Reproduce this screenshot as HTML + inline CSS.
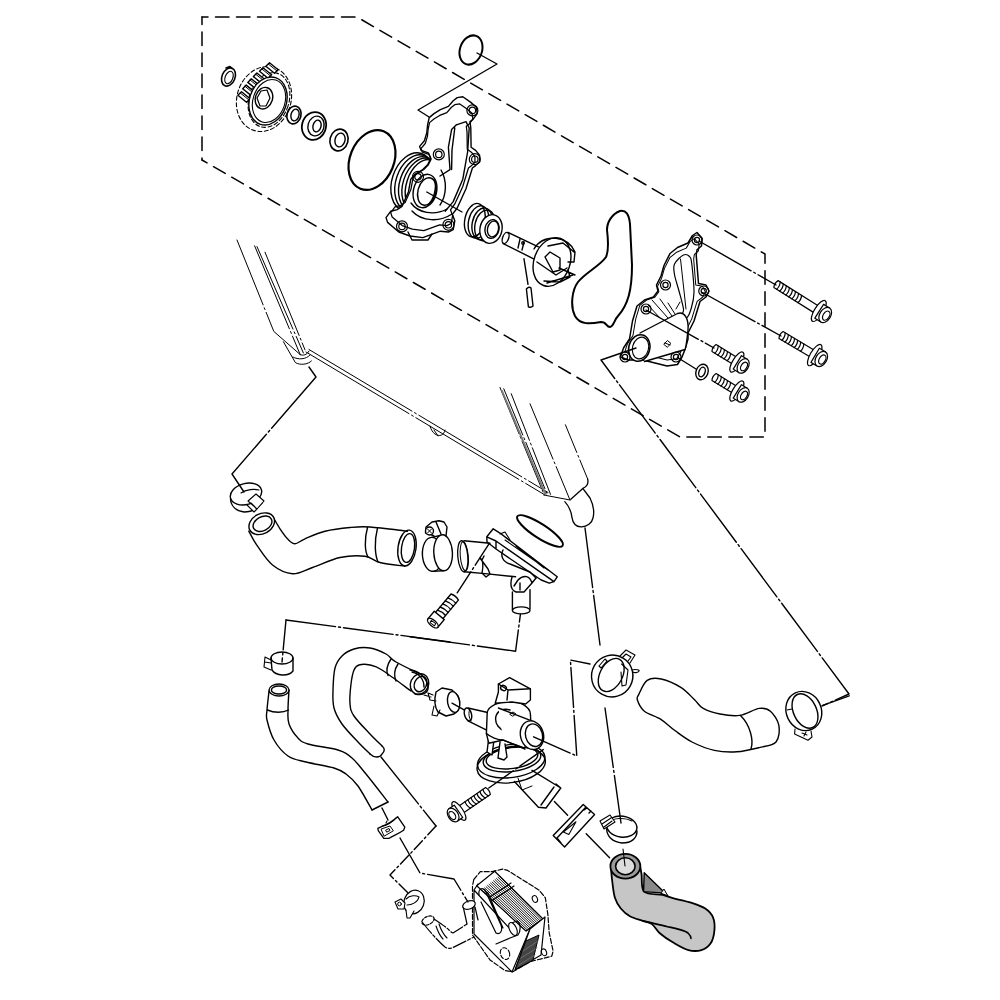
<!DOCTYPE html>
<html><head><meta charset="utf-8">
<style>
html,body{margin:0;padding:0;background:#fff;}
svg{display:block;}
</style></head>
<body>
<svg width="1000" height="1000" viewBox="0 0 1000 1000">
<g fill="none" stroke="#000" stroke-width="1.4" stroke-linejoin="round" stroke-linecap="round">
<!-- dashed box -->
<path d="M202,17 L357,17 L765,254 L765,437 L680,437 L202,160" stroke-dasharray="13.5,7.5" stroke-dashoffset="7.5" stroke-width="1.5"/>
<path d="M202,17 L202,160" stroke-dasharray="13.5,7.5" stroke-dashoffset="6" stroke-width="1.5"/>

<!-- top o-ring + callout -->
<ellipse cx="471" cy="50" rx="11" ry="15" transform="rotate(20 471 50)" stroke-width="2"/>
<path d="M477,53 L497,64 L418,110 L429,117"/>

<!-- snap ring -->
<ellipse cx="228.5" cy="77" rx="6.5" ry="9.5" transform="rotate(22 228.5 77)" stroke-width="1.6"/>
<ellipse cx="229" cy="77.5" rx="3.8" ry="6.5" transform="rotate(22 229 77.5)" stroke-width="1.1"/>
<path d="M226,68 l4,-1.5 l2,2" stroke-width="1.6"/>
<!-- gear -->
<ellipse cx="264" cy="99" rx="27" ry="33" transform="rotate(18 264 99)" stroke-dasharray="4,2.5" stroke-width="1.1"/>
<ellipse cx="269" cy="100" rx="20" ry="28" transform="rotate(18 269 100)" stroke-dasharray="4,2.5" stroke-width="1.1"/>
<path d="M237.9,95.3 L246.5,102.2 L250.1,98.7 L241.5,91.8 Z M242.7,88.7 L251.3,95.6 L254.8,92.1 L246.2,85.1 Z M247.8,82.4 L256.4,89.3 L259.9,85.8 L251.3,78.8 Z M253.4,76.6 L262.0,83.5 L265.5,80.0 L256.9,73.0 Z M259.5,71.3 L268.1,78.2 L271.6,74.7 L263.0,67.7 Z M265.9,66.3 L274.5,73.2 L278.1,69.7 L269.5,62.8 Z " fill="#fff" stroke-width="1.4"/>
<path d="M240.3,93.0 L248.9,99.9 M245.0,86.3 L253.6,93.3 M250.1,80.0 L258.7,87.0 M255.7,74.2 L264.3,81.2 M261.8,68.9 L270.4,75.9 M268.3,64.0 L276.9,70.9 " stroke-width="1"/>
<ellipse cx="268" cy="101" rx="18.5" ry="24.5" transform="rotate(18 268 101)" fill="#fff" stroke-width="1.4"/>
<ellipse cx="269" cy="101" rx="16" ry="22" transform="rotate(18 269 101)" stroke-width="1.1"/>
<ellipse cx="264" cy="98.2" rx="8.5" ry="11" transform="rotate(18 264 98.2)" stroke-width="1.4"/>
<path d="M261,91 L267,90 L270,98 L266,106 L260,106 L257,98 Z" stroke-width="1.2"/>
<!-- washer -->
<ellipse cx="294" cy="115" rx="7" ry="9" transform="rotate(15 294 115)" stroke-width="1.6"/>
<ellipse cx="295" cy="115" rx="4" ry="6" transform="rotate(15 295 115)"/>
<!-- bearing -->
<ellipse cx="314" cy="126" rx="12" ry="14" transform="rotate(15 314 126)" stroke-width="1.8"/>
<ellipse cx="316" cy="126" rx="8" ry="10" transform="rotate(15 316 126)"/>
<ellipse cx="317" cy="126" rx="4" ry="6" transform="rotate(15 317 126)"/>
<!-- seal -->
<ellipse cx="339" cy="140" rx="9" ry="11" transform="rotate(15 339 140)" stroke-width="1.6"/>
<ellipse cx="340" cy="140" rx="5" ry="7" transform="rotate(15 340 140)"/>
<!-- large o-ring -->
<ellipse cx="372" cy="160" rx="22" ry="31" transform="rotate(22 372 160)" stroke-width="2.2"/>

<!-- pump housing -->
<g transform="rotate(18 412 182)">
<ellipse cx="412" cy="182" rx="20" ry="30"/>
<ellipse cx="415" cy="182" rx="19" ry="29"/>
<ellipse cx="418" cy="182" rx="18" ry="28"/>
<ellipse cx="421" cy="182" rx="17.5" ry="27.5"/>
<ellipse cx="424" cy="182" rx="17" ry="27"/>
</g>
<path id="hs" fill="#fff" d="M429.2,117.6 L434,113.6 L440.4,109.6 L448.4,106.4 L453.2,100.8 L457.2,97.6 L462.8,96.8 L470.8,102.4 L476.4,107.2 L477.2,113.6 L473.2,119.2 L470,121.6 L470.8,128 L471.1,147.2 L475.6,150.4 L479.6,155.2 L479.6,161.6 L475.6,165.6 L472.4,168 L466,188.8 L457.2,208 L452.4,214.4 L454.8,220.8 L453.2,229.6 L448.4,232 L440.4,231.2 L422.8,237.6 L410,236 L398.8,232 L387.6,222.4 L386,217.6 L390.8,211.2 L397.2,209.6 L402,206.4 L408.4,192 L410.8,179.2 L414.8,174.4 L422.8,169.6 L427.6,164.8 L430.8,158.4 L428.4,152.8 L421.2,150.4 L419.6,146.4 L424.4,140.8 L426.8,132.8 L427.6,124.8 Z"/>
<path transform="translate(433 168) scale(0.9) translate(-433 -168)" d="M429.2,117.6 L434,113.6 L440.4,109.6 L448.4,106.4 L453.2,100.8 L457.2,97.6 L462.8,96.8 L470.8,102.4 L476.4,107.2 L477.2,113.6 L473.2,119.2 L470,121.6 L470.8,128 L471.1,147.2 L475.6,150.4 L479.6,155.2 L479.6,161.6 L475.6,165.6 L472.4,168 L466,188.8 L457.2,208 L452.4,214.4 L454.8,220.8 L453.2,229.6 L448.4,232 L440.4,231.2 L422.8,237.6 L410,236 L398.8,232 L387.6,222.4 L386,217.6 L390.8,211.2 L397.2,209.6 L402,206.4 L408.4,192 L410.8,179.2 L414.8,174.4 L422.8,169.6 L427.6,164.8 L430.8,158.4 L428.4,152.8 L421.2,150.4 L419.6,146.4 L424.4,140.8 L426.8,132.8 L427.6,124.8 Z"/>
<g transform="rotate(15 425 191)">
<ellipse cx="425" cy="191" rx="11.5" ry="17"/>
<ellipse cx="427" cy="191" rx="9" ry="14"/>
<path d="M431,178 C436,184 436,198 431,204" />
</g>
<path d="M456.4,124.8 L466,121.6 L469.2,128 L467.6,152 L462.8,179.2 L453.2,201.6 L445.2,211.2 M456.4,124.8 L451.6,129.6 L448.4,147.2 L450,169.6 L440,176 M454.8,128 L452,150 L451.6,169.6"/>
<g stroke-width="1.2">
<circle cx="472.4" cy="110.4" r="3.2"/><circle cx="472.4" cy="110.4" r="5.5"/>
<circle cx="438.8" cy="154.4" r="3.2"/><circle cx="438.8" cy="154.4" r="5.5"/>
<circle cx="474.8" cy="159.2" r="3.2"/><circle cx="474.8" cy="159.2" r="5.5"/>
<circle cx="418" cy="176.8" r="3.2"/><circle cx="418" cy="176.8" r="5.5"/>
<circle cx="402" cy="226.4" r="3.2"/><circle cx="402" cy="226.4" r="5.5"/>
<circle cx="448.4" cy="224.8" r="3.2"/><circle cx="448.4" cy="224.8" r="5.5"/>
</g>
<path d="M411,203 C418,213 434,216 447,209 M412,211 C422,222 440,222 452,214 M441,170 C447,180 447,195 440,205"/>
<path d="M426.8,192 L462,212"/>
<path d="M408,232 L412,240 L428,240 L432,234"/>
<!-- mechanical seal -->
<g transform="rotate(12 483 225)">
<ellipse cx="474" cy="222" rx="10" ry="17"/>
<ellipse cx="478" cy="223" rx="10" ry="16.5"/>
<ellipse cx="482" cy="224" rx="10" ry="16"/>
<ellipse cx="485" cy="225" rx="10" ry="15.5"/>
</g>
<ellipse fill="#fff" cx="491" cy="229" rx="11" ry="14.5" transform="rotate(12 491 229)"/>
<ellipse cx="492" cy="229" rx="7" ry="9.5" transform="rotate(12 492 229)"/>
<ellipse cx="493" cy="229" rx="5.5" ry="8" transform="rotate(12 493 229)"/>
<!-- shaft + impeller -->
<path d="M508,232.4 L538.4,246.8 M503.2,243.6 L533.6,258.8"/>
<ellipse cx="505.6" cy="238" rx="3" ry="5.8" transform="rotate(20 505.6 238)"/>
<path d="M520,239 L518,248 M524,242 L522,250"/>
<circle cx="523" cy="243" r="1.2"/>
<ellipse cx="552" cy="262" rx="18" ry="25" transform="rotate(20 552 262)"/>
<path d="M534,249 Q540,238 555,238 Q570,240 575,252 L574,262 L568,262 M548,246 L563,243 L574,252 M545,257 L550,252 L560,258 L560,270 L553,272 Z M537,262 L556,275 L567,268 M544,281 L560,282 L570,277 L568,270 M547,283 L573,275 M559,268 L575,275"/>
<!-- pin -->
<path d="M526.4,289 L528.4,306.8 M531,288 L533,306 M526.4,289 Q529,286 531,288 M528.4,306.8 Q531,308 533,306"/>
<path d="M524,258.8 L528,284.4"/>
<!-- gasket -->
<path d="M620,211 C626,210 629,214 630,224 L632,265 C632,290 628,305 618,316 C614,320 614,326 610,327 C606,327 607,322 601,322 C590,324 580,325 575,316 C570,306 572,290 578,282 C586,272 600,266 606,257 C609,250 608,238 607,230 C607,222 612,214 620,211 Z" stroke-width="2"/>
<!-- cover -->
<path d="M697.0,232.5 L702.2,238.5 L701.5,246.0 L697.0,249.8 L696.2,255.0 L698.5,283.5 L706.0,285.0 L709.0,291.0 L706.0,297.0 L700.0,301.5 L694.0,321.0 L688.0,333.0 L688.0,339.0 L685.0,349.5 L682.0,357.0 L677.5,364.5 L667.0,366.0 L643.0,360.0 L628.0,360.0 L620.5,357.0 L623.5,348.0 L629.5,339.0 L632.5,321.0 L637.0,306.0 L644.5,300.0 L653.5,297.0 L658.0,291.0 L656.5,285.0 L661.0,276.0 L664.0,265.5 L670.0,253.5 L677.5,247.5 L688.0,243.0 L692.5,235.5 Z" stroke-width="1.5"/>
<path transform="translate(668 300) scale(0.91) translate(-668 -300)" d="M697.0,232.5 L702.2,238.5 L701.5,246.0 L697.0,249.8 L696.2,255.0 L698.5,283.5 L706.0,285.0 L709.0,291.0 L706.0,297.0 L700.0,301.5 L694.0,321.0 L688.0,333.0 L688.0,339.0 L685.0,349.5 L682.0,357.0 L677.5,364.5 L667.0,366.0 L643.0,360.0 L628.0,360.0 L620.5,357.0 L623.5,348.0 L629.5,339.0 L632.5,321.0 L637.0,306.0 L644.5,300.0 L653.5,297.0 L658.0,291.0 L656.5,285.0 L661.0,276.0 L664.0,265.5 L670.0,253.5 L677.5,247.5 L688.0,243.0 L692.5,235.5 Z" stroke-width="1.1"/>
<path d="M674.5,264.0 C676.0,260.8 681.0,256.2 683.5,255.0 C686.0,253.8 688.1,255.0 689.5,256.5 C690.9,258.0 691.0,258.0 691.8,264.0 C692.5,270.0 694.1,285.0 694.0,292.5 C693.9,300.0 692.2,304.8 691.0,309.0 C689.8,313.2 688.0,317.0 686.5,318.0 C685.0,319.0 682.5,316.5 682.0,315.0 C681.5,313.5 684.0,313.0 683.5,309.0 C683.0,305.0 680.5,296.8 679.0,291.0 C677.5,285.2 675.2,279.0 674.5,274.5 C673.8,270.0 673.0,267.2 674.5,264.0 Z" stroke-width="1.2"/>
<path d="M680.5,259 L686,309" stroke-width="1"/>
<path d="M648,305 L660,318 M652,300 L668,318 M660,299 L672,316 M668,303 L675,314 M676,309 L680,302" stroke-width="1"/>
<path d="M640,333 L677.5,313.5 C684,311 689,318 688,330 C687,340 686,347 685,349.5 L644.5,361.5" fill="#fff" stroke-width="1.4"/>
<ellipse cx="639.25" cy="348" rx="10.5" ry="13.5" transform="rotate(15 639.25 348)" fill="#fff" stroke-width="1.5"/>
<ellipse cx="640.5" cy="348" rx="8" ry="11" transform="rotate(15 640.5 348)" stroke-width="1.1"/>
<path d="M664,344 l3.5,-3.5 l3.5,3 l-3.5,3.5 z M665,343 l5,2" stroke-width="1"/>
<g stroke-width="1.2">
<circle cx="697" cy="240" r="2.6"/><circle cx="697" cy="240" r="5"/>
<circle cx="665.5" cy="285" r="2.6"/><circle cx="665.5" cy="285" r="5"/>
<circle cx="703.75" cy="291" r="2.6"/><circle cx="703.75" cy="291" r="5"/>
<circle cx="646" cy="309" r="2.6"/><circle cx="646" cy="309" r="5"/>
<circle cx="676" cy="357" r="2.6"/><circle cx="676" cy="357" r="5"/>
<circle cx="625" cy="357" r="2.6"/><circle cx="625" cy="357" r="5"/>
</g>
<!-- bolts -->
<path d="M699,241 L776,285 M702.5,292.5 L781,336 M646,310 L714,348 M677.5,357.5 L696,369 M636,348 L601,360 L849,694 L822,706" stroke-dasharray="60,3,2,3"/>
<g transform="translate(822.0 313.0) rotate(32.2)" stroke-width="1.20">
<path d="M-54.4,-4.0 L-6.6,-4.0 M-54.4,4.0 L-6.6,4.0 M-54.4,-4.0 Q-56.4,0 -54.4,4.0"/>
<path d="M-51.9,-4.0 Q-49.7,0 -51.1,4.0 M-48.3,-4.0 Q-46.1,0 -47.5,4.0 M-44.7,-4.0 Q-42.5,0 -43.9,4.0 M-41.1,-4.0 Q-38.9,0 -40.3,4.0 M-37.5,-4.0 Q-35.3,0 -36.7,4.0 M-33.9,-4.0 Q-31.7,0 -33.1,4.0 M-30.3,-4.0 Q-28.1,0 -29.5,4.0 M-26.7,-4.0 Q-24.5,0 -25.9,4.0 "/>
<ellipse cx="-3.8" cy="0" rx="4.4" ry="12.1" fill="#fff"/>
<path fill="#fff" d="M-3.3,-8.2 L3.8,-8.2 L3.8,8.2 L-3.3,8.2 Z"/>
<ellipse cx="3.8" cy="0" rx="5.5" ry="8.2" fill="#fff"/>
<ellipse cx="5.0" cy="0" rx="3.1" ry="5.0"/>
</g><g transform="translate(818.0 357.0) rotate(30.7)" stroke-width="1.20">
<path d="M-43.0,-4.0 L-6.6,-4.0 M-43.0,4.0 L-6.6,4.0 M-43.0,-4.0 Q-45.0,0 -43.0,4.0"/>
<path d="M-40.5,-4.0 Q-38.3,0 -39.7,4.0 M-36.9,-4.0 Q-34.7,0 -36.1,4.0 M-33.3,-4.0 Q-31.1,0 -32.5,4.0 M-29.7,-4.0 Q-27.5,0 -28.9,4.0 M-26.1,-4.0 Q-23.9,0 -25.3,4.0 M-22.5,-4.0 Q-20.3,0 -21.7,4.0 M-18.9,-4.0 Q-16.7,0 -18.1,4.0 "/>
<ellipse cx="-3.8" cy="0" rx="4.4" ry="12.1" fill="#fff"/>
<path fill="#fff" d="M-3.3,-8.2 L3.8,-8.2 L3.8,8.2 L-3.3,8.2 Z"/>
<ellipse cx="3.8" cy="0" rx="5.5" ry="8.2" fill="#fff"/>
<ellipse cx="5.0" cy="0" rx="3.1" ry="5.0"/>
</g><g transform="translate(740.0 364.0) rotate(31.6)" stroke-width="1.20">
<path d="M-30.5,-4.0 L-6.3,-4.0 M-30.5,4.0 L-6.3,4.0 M-30.5,-4.0 Q-32.5,0 -30.5,4.0"/>
<path d="M-28.0,-4.0 Q-25.8,0 -27.2,4.0 M-24.4,-4.0 Q-22.2,0 -23.6,4.0 M-20.8,-4.0 Q-18.6,0 -20.0,4.0 M-17.2,-4.0 Q-15.0,0 -16.4,4.0 M-13.6,-4.0 Q-11.4,0 -12.8,4.0 "/>
<ellipse cx="-3.7" cy="0" rx="4.2" ry="11.6" fill="#fff"/>
<path fill="#fff" d="M-3.1,-7.9 L3.7,-7.9 L3.7,7.9 L-3.1,7.9 Z"/>
<ellipse cx="3.7" cy="0" rx="5.2" ry="7.9" fill="#fff"/>
<ellipse cx="4.7" cy="0" rx="2.9" ry="4.7"/>
</g><g transform="translate(740.0 393.0) rotate(31.6)" stroke-width="1.20">
<path d="M-30.5,-4.0 L-6.3,-4.0 M-30.5,4.0 L-6.3,4.0 M-30.5,-4.0 Q-32.5,0 -30.5,4.0"/>
<path d="M-28.0,-4.0 Q-25.8,0 -27.2,4.0 M-24.4,-4.0 Q-22.2,0 -23.6,4.0 M-20.8,-4.0 Q-18.6,0 -20.0,4.0 M-17.2,-4.0 Q-15.0,0 -16.4,4.0 M-13.6,-4.0 Q-11.4,0 -12.8,4.0 "/>
<ellipse cx="-3.7" cy="0" rx="4.2" ry="11.6" fill="#fff"/>
<path fill="#fff" d="M-3.1,-7.9 L3.7,-7.9 L3.7,7.9 L-3.1,7.9 Z"/>
<ellipse cx="3.7" cy="0" rx="5.2" ry="7.9" fill="#fff"/>
<ellipse cx="4.7" cy="0" rx="2.9" ry="4.7"/>
</g>
<ellipse cx="702" cy="372" rx="6" ry="8" transform="rotate(20 702 372)"/>
<ellipse cx="702" cy="372" rx="3" ry="5" transform="rotate(20 702 372)"/>
<!-- radiator -->
<g stroke-width="1">
<path d="M237,240 L273.8,331.4 L300.2,354.6" stroke-dasharray="70,3,2,3"/>
<path d="M254.6,245.8 L300.2,354.6 M257,246.6 L303.4,353 M265,252.2 L305,349.8" stroke-dasharray="90,3,2,3"/>
<path d="M306,352 L545,495 M309,349.5 L548,492.5" stroke-dasharray="120,3,2,3"/>
<path d="M500,387.5 L543.75,493.75 M503.75,388.75 L547.5,495 M511.25,393.75 L551.25,496.25" stroke-dasharray="50,3,2,3"/>
<path d="M530,403.75 L570,500 M543.75,495 L570,500" stroke-dasharray="60,3,2,3"/>
<path d="M565.4,424.8 L587.6,478.8" stroke-dasharray="30,3,2,3"/>
<path d="M502,391 L545.6,494.4" stroke="#777" stroke-width="2" stroke-dasharray="1,1"/>
<path d="M283.4,341.8 L295.4,362.6 C300,365.5 308,364.5 311.4,361 M293,357 C298,360 306,359.5 310,355 M300.2,354.6 C303,356 307,355 309,351"/>
<path d="M430,426 C433,438 444,438 445,430 M434,430 l4,6"/>
</g>
<path d="M587.6,478.8 C589,484 587,486.5 582.8,488.4 L570.8,499.2 M564.8,501.6 C568,505 571,510 572,517.6 C573,524 577,527 581.6,526.8 C587,526.5 592,523 593,518 C594.5,512 593.5,505 590,498 L582.8,488.4" stroke-width="1.3"/>
<path d="M309,367 L316,377 L232,474 L244,492" stroke-dasharray="80,3,2,3"/>
<path d="M585,528 L600,645" stroke-dasharray="60,3,2,3"/>
<ellipse cx="540" cy="531" rx="27" ry="7" transform="rotate(33 540 531)" stroke-width="2"/>
<!-- clamp1 -->
<ellipse cx="246" cy="494" rx="16" ry="10.5" transform="rotate(-15 246 494)"/>
<path d="M230.5,499 C231,506 236,511 244,512 C252,512 258,508 262,503" />
<path d="M241,493 C246,489 255,489 259,490" stroke-width="1.1"/>
<path d="M248,501 L256,494 L264,501 L257,509 Z M247,505 L254,512 L257,509 M251,503 l4,4" fill="#fff" stroke-width="1.1"/>
<!-- hose1 -->
<path d="M272.5,516.2 C273.8,518.3 277.5,525.0 280.0,528.8 C282.5,532.5 285.0,536.2 287.5,538.8 C290.0,541.2 292.1,543.8 295.0,543.8 C297.9,543.8 300.0,540.8 305.0,538.8 C310.0,536.7 317.5,533.1 325.0,531.2 C332.5,529.4 342.5,528.2 350.0,527.5 C357.5,526.8 360.4,526.4 370.0,527.0 C379.6,527.6 401.2,530.5 407.5,531.2"/>
<path d="M248.8,531.2 C250.2,533.8 253.5,540.6 257.5,546.2 C261.5,551.9 266.7,560.4 272.5,565.0 C278.3,569.6 285.8,573.3 292.5,573.8 C299.2,574.2 304.6,570.2 312.5,567.5 C320.4,564.8 331.2,559.4 340.0,557.5 C348.8,555.6 358.3,555.4 365.0,556.2 C371.7,557.1 373.3,560.8 380.0,562.5 C386.7,564.2 400.8,565.6 405.0,566.2"/>
<ellipse cx="261.75" cy="523.75" rx="13.5" ry="10" transform="rotate(-28 261.75 523.75)" fill="#fff"/>
<ellipse cx="262.5" cy="523.75" rx="10" ry="7" transform="rotate(-28 262.5 523.75)"/>
<ellipse cx="407" cy="548" rx="9" ry="18" transform="rotate(8 407 548)"/>
<ellipse cx="408" cy="548" rx="6.5" ry="14.5" transform="rotate(8 408 548)"/>
<path d="M367.5,527.5 C364,540 365,552 368,557 M377.5,528 C374,542 375,555 378,562"/>
<!-- clamp2 -->
<ellipse cx="432.4" cy="554.4" rx="10" ry="17" transform="rotate(-3 432.4 554.4)"/>
<path d="M432,537.4 L443,534.8 M432,571.4 L443,570.8" />
<ellipse cx="443.1" cy="552.8" rx="9.3" ry="18" fill="#fff" transform="rotate(-3 443.1 552.8)"/>
<path d="M425.5,533 L426,527 L432,522 L439,520.8 L444,522 L447,527 L446,536 M436,522 L441,534 M426,532 L434,536"/>
<circle cx="429.5" cy="531" r="4" fill="#fff"/>
<path d="M427.5,529 l4,4 M431.5,529 l-4,4" stroke-width="1"/>
<!-- bolt socket -->
<g transform="translate(438 617) rotate(-50)">
<path d="M0,-4.8 L26,-4.8 M0,4.8 L26,4.8 M26,-4.8 Q28,0 26,4.8"/>
<path d="M5,-4.8 Q7,0 6,4.8 M9,-4.8 Q11,0 10,4.8 M13,-4.8 Q15,0 14,4.8 M17,-4.8 Q19,0 18,4.8 M21,-4.8 Q23,0 22,4.8"/>
<path d="M-8,-6.5 L2,-6.5 L2,6.5 L-8,6.5 Z" fill="#fff"/>
<ellipse cx="-8" cy="0" rx="3" ry="6.5" fill="#fff"/>
<path d="M-9.5,-2.5 L-7,-3 L-6.5,2.5 L-9,3 Z" stroke-width="1"/>
</g>
<path d="M457.2,592.8 L490,542.4" stroke-dasharray="25,3,2,3"/>
<!-- thermostat cover -->
<ellipse cx="462.8" cy="556.3" rx="5" ry="15.6" transform="rotate(-5 462.8 556.3)" stroke-width="1.3"/>
<ellipse cx="464.3" cy="556.3" rx="4" ry="14.5" transform="rotate(-5 464.3 556.3)" stroke-width="1"/>
<path d="M464,540.8 L490,543.2 M464,571.8 L485.2,573.6 L515.6,576.8"/>
<path d="M480,558 C484,560 483,568 482,573 L486,577 L490,574 L488,569 Z M482,560 l2,-4"/>
<path d="M486.8,536.8 L493.2,528.8 L499.6,532.8 L557.2,576.8 L554,581.6 L549.2,583.2 L541.2,580 L496,549 L487,542 Z M486.8,536.8 L496,541 L554,581.6 M496,541 L496,549"/>
<path d="M500,534 L505,532 L510,540 M505,540 L548,570 M516,546 L534,560 L544,568" stroke-width="1.1"/>
<path d="M503,550 C500,556 503,562 510,564 L530,572 L536,578"/>
<path d="M512,577 C510,584 511,590 516,592 L524,592 L532,583 L536,578 M518,580 C524,574 530,576 532,583 M514,586 L518,580 M520,590 L520,583"/>
<path d="M512.4,592 L512.4,610 M530,589.6 L530,609"/>
<ellipse cx="521.2" cy="610.4" rx="8.8" ry="3.5"/>
<path d="M410,636.8 L515.6,651.2 L520.4,614.4" stroke-dasharray="60,3,2,3"/>
<!-- clamp3 -->
<ellipse cx="282" cy="658" rx="11" ry="6"/>
<path d="M271,658 L272,670 C276,676 288,677 293,671 L293,658"/>
<path d="M271,660 L265,657 L264,667 L271,670 M265,662 l6,1" stroke-width="1.1"/>
<path d="M286,620 L282,662" stroke-dasharray="30,3,2,3"/>
<path d="M286,620 L450,642" stroke-dasharray="50,3,2,3"/>
<!-- hose2 -->
<path d="M269.0,691.0 C268.7,694.2 267.3,705.2 267.0,710.0 C266.7,714.8 265.8,715.0 267.0,720.0 C268.2,725.0 270.5,734.0 274.0,740.0 C277.5,746.0 282.7,752.3 288.0,756.0 C293.3,759.7 298.3,760.0 306.0,762.0 C313.7,764.0 327.3,766.0 334.0,768.0 C340.7,770.0 342.0,771.0 346.0,774.0 C350.0,777.0 353.7,780.0 358.0,786.0 C362.3,792.0 369.7,806.0 372.0,810.0"/>
<path d="M289.0,690.0 C288.8,693.3 288.0,704.3 288.0,710.0 C288.0,715.7 287.3,719.3 289.0,724.0 C290.7,728.7 294.8,734.7 298.0,738.0 C301.2,741.3 301.3,742.0 308.0,744.0 C314.7,746.0 330.7,747.7 338.0,750.0 C345.3,752.3 347.3,754.0 352.0,758.0 C356.7,762.0 360.0,766.7 366.0,774.0 C372.0,781.3 384.3,797.3 388.0,802.0"/>
<path d="M372,810 L388,802"/>
<ellipse cx="279" cy="690" rx="10" ry="6" fill="#fff"/>
<ellipse cx="279" cy="690" rx="7.6" ry="4"/>
<path d="M267.5,710 C274,713 283,713 288.5,710"/>
<!-- hose3 -->
<path d="M370.0,754.0 C368.0,752.0 362.7,747.0 358.0,742.0 C353.3,737.0 346.0,729.7 342.0,724.0 C338.0,718.3 335.5,713.7 334.0,708.0 C332.5,702.3 332.8,696.7 333.0,690.0 C333.2,683.3 333.5,673.7 335.0,668.0 C336.5,662.3 338.8,659.2 342.0,656.0 C345.2,652.8 349.3,650.3 354.0,649.0 C358.7,647.7 364.7,647.2 370.0,648.0 C375.3,648.8 381.7,651.7 386.0,654.0 C390.3,656.3 390.2,658.6 396.0,662.0 C401.8,665.4 416.8,672.4 421.0,674.5"/>
<path d="M382.0,746.0 C380.0,744.0 374.7,739.0 370.0,734.0 C365.3,729.0 357.3,721.0 354.0,716.0 C350.7,711.0 350.5,709.3 350.0,704.0 C349.5,698.7 350.3,689.7 351.0,684.0 C351.7,678.3 352.7,673.2 354.0,670.0 C355.3,666.8 356.3,665.8 359.0,665.0 C361.7,664.2 366.2,664.2 370.0,665.0 C373.8,665.8 375.2,665.7 382.0,670.0 C388.8,674.3 406.2,687.5 411.0,691.0"/>
<path d="M370,754 C374,758 380,758 382,754 C385,751 385,748 382,746"/>
<ellipse cx="419.5" cy="684" rx="9" ry="10.5" transform="rotate(25 419.5 684)" fill="#fff"/>
<ellipse cx="420.5" cy="684" rx="6" ry="8" transform="rotate(25 420.5 684)"/>
<path d="M391,659 C387,665 386,671 388,675.5 M398,664 C394,670 394,676 396,681"/>
<path d="M381,757 L436,826" stroke-dasharray="60,3,2,3"/>
<path d="M382,808 L388,820"/>
<!-- clamp7 -->
<path d="M377.8,828.4 L382,826.3 C388,824 394,820 397.6,816.7 L404.8,827.2 L403.6,830.2 C398,834 393,836 389.2,838.3 L383.8,838.3 L378.4,830.8 Z" stroke-width="1.3"/>
<path d="M382,826.3 C386,826 393,822 396,818 M386,823 l1,-2" stroke-width="1.1"/>
<path d="M381.4,829 L390,826 L393.4,830.8 L384.4,836 Z M386,830 l3,-1.5 l1,2 l-3,1.5 z" stroke-width="1"/>
<!-- oil cooler -->
<path d="M473.8,879.5 L480.3,871.7 L492,871.7 L502.4,869.1 L507.6,870.4 L538.8,889.9 L545.3,897.7 L547.9,914.6 L549.2,932.8 L553.1,951 L551.8,956.2 L531,961.4 L512.8,971.8 L505,970.5 L490,960 L472.5,935 L472.5,886 Z" stroke-dasharray="5,2" stroke-width="1.2"/>
<path d="M476.7,885.7 L494.7,871.3 L543,919 L526,931 Z" fill="#fff" stroke-width="1.2"/>
<path d="M481.6,890.2 L526.0,931.0 M483.1,889.0 L527.4,930.0 M484.6,887.9 L528.8,929.0 M486.1,886.7 L530.2,928.0 M487.6,885.5 L531.7,927.0 M489.1,884.3 L533.1,926.0 M490.6,883.1 L534.5,925.0 M492.1,882.0 L535.9,924.0 M493.6,880.8 L537.3,923.0 M495.1,879.6 L538.8,922.0 M496.5,878.4 L540.2,921.0 M498.0,877.2 L541.6,920.0 M499.5,876.1 L543.0,919.0 " stroke-width="0.9"/>
<path d="M490,897 L511,883 M493,900 L514,886" fill="none" stroke-width="1.2"/>
<path d="M478,884 L474,890 L474,934 L512,972 L530,929 M474,890 L512,931" fill="none" stroke-width="1.2"/>
<path d="M530,929 L545,917 L541,955 L515,970 Z" fill="#fff" stroke-width="1.2"/>
<path d="M515.4,969 L525.8,941 L539,935 L533,960 Z" fill="#444" stroke-width="1"/>
<path d="M519,965 L535,955 M521,958 L537,948 M523,951 L538,941" stroke="#777" stroke-width="0.8"/>
<path d="M479,895 C478,889 482,887 485,890 L501,925 C503,931 500,935 496,933 L481,902 M485,891 L488,893 L503,928" stroke-width="1.2"/>
<path d="M509,924 L517,921 C521,923 521,931 518,935 L510,938 L496,944" stroke-width="1.2"/>
<ellipse cx="513" cy="929" rx="3.5" ry="7" transform="rotate(-25 513 929)" fill="#fff" stroke-width="1.1"/>
<ellipse cx="534.9" cy="899" rx="2.5" ry="3.5" transform="rotate(-20 534.9 899)" stroke-width="1.1"/>
<ellipse cx="544" cy="952.3" rx="2.5" ry="3.5" transform="rotate(-20 544 952.3)" stroke-width="1.1"/>
<ellipse cx="505" cy="953.6" rx="4.5" ry="6" transform="rotate(-20 505 953.6)" stroke-dasharray="4,2" stroke-width="1.1"/>
<!-- L pipe -->
<path d="M463,906 L467,924 M475,907 L478,920" stroke-width="1.2"/>
<ellipse cx="469" cy="905" rx="6.5" ry="4" transform="rotate(-20 469 905)" fill="#fff" stroke-width="1.2"/>
<path d="M434,919 C440,923 446,927 449,930 C451,932 452,933 453,933 L467,924 M422.5,922.5 C430,932 438,941 445,947 C447,948.5 449,948.5 452,948 L474,937" stroke-width="1.2" stroke-dasharray="14,2,3,2"/>
<path d="M436,926 C438,932 440,936 443,939 M439,924 C441,930 444,935 447,938" stroke-width="1.1"/>
<ellipse cx="428" cy="920.5" rx="6.5" ry="4" transform="rotate(-25 428 920.5)" stroke-dasharray="3,1.5" stroke-width="1.2"/>
<path d="M400,838 L420,873 L454,879 L468,902" stroke-dasharray="40,3,2,3"/>
<path d="M436,826 L410,854 L390,875 L409,894" stroke-dasharray="12,3,2,3"/>
<ellipse cx="414" cy="902" rx="10" ry="12" transform="rotate(20 414 902)" stroke-width="1.2"/>
<path d="M406,899 C410,895 416,895 419,897 C418,902 412,905 407,905" stroke-width="1.1"/>
<path d="M395,902 L401,899 L405,903 L404,909 L398,909 Z" fill="#fff" stroke-width="1.1"/>
<circle cx="399.5" cy="904" r="1.8" stroke-width="1"/>
<path d="M406,910 L407,918 L410,918 L414,911" fill="#fff" stroke-width="1.1"/>
<!-- thermostat housing -->
<!-- fitting left -->
<path d="M410,670 C418,671 426,676 428,686 C429,692 424,696 415,694"/>
<path d="M412,672 C420,674 424,680 424,687"/>
<path d="M436,692 L442,688 L452,690 L458,696 C461,702 460,710 454,714 L446,716 L438,712 M436,692 C434,700 434,706 438,712" />
<ellipse cx="453.6" cy="702" rx="6" ry="10.5" transform="rotate(-10 453.6 702)" fill="#fff"/>
<path d="M433,695 L428,693 L430,700 L436,701 M434,706 L432,715 L437,716 L440,710 M431,697 L424,695" stroke-width="1.1"/>
<path d="M452,703.2 L466.4,711.2" />
<!-- small pipe -->
<path d="M468,708 L488.8,712.8 M468,720.8 L487.2,730.4"/>
<ellipse cx="468" cy="714.4" rx="3.5" ry="6.6" transform="rotate(-15 468 714.4)" fill="#fff"/>
<path d="M470,708.5 C468,713 469,718 471,721" stroke-width="1"/>
<!-- base flange -->
<ellipse cx="511.2" cy="765" rx="34.4" ry="17.6" transform="rotate(-8 511.2 765)"/>
<ellipse cx="511.2" cy="761" rx="34" ry="16.5" transform="rotate(-8 511.2 761)"/>
<ellipse cx="512" cy="759" rx="29" ry="12.5" transform="rotate(-8 512 759)"/>
<ellipse cx="512" cy="758" rx="26" ry="10.5" transform="rotate(-8 512 758)"/>
<!-- legs -->
<path d="M489,736 L487,752 L492,755 L494,740 M500,742 L498,758 L504,760 L507,757 L505,744" fill="#fff"/>
<!-- body -->
<path fill="#fff" d="M487.2,712.8 C488,706 500,701 509.6,701.6 C520,701 530,707 530.4,714 L531,725 L535,730 L524,748 L503.2,740 L488.8,743.2 L486.4,733.6 Z"/>
<path d="M506.4,732 C500,730 494,724 496,716 C498,710 504,708 510,710" />
<path d="M486.4,733.6 C490,737 498,740 503.2,740"/>
<!-- bracket -->
<path fill="#fff" d="M495.2,703.2 L498.4,692 L498.4,684 L509.6,677.6 L530.4,688.8 L530.4,700 L525.6,704 L512,702 Z"/>
<path d="M498.4,684 L508,690 L530.4,688.8 M508,690 L507,700"/>
<ellipse cx="503.5" cy="688" rx="3" ry="2.5" transform="rotate(30 503.5 688)"/>
<!-- outlet pipe -->
<path fill="#fff" d="M498.4,708 L535.2,722.4 L530,748 L503.2,740 Z" stroke="none"/>
<path d="M498.4,708 L533,721.4 M503.2,740 L525,749"/>
<ellipse cx="532" cy="735.2" rx="11.5" ry="14.5" transform="rotate(-15 532 735.2)" fill="#fff"/>
<ellipse cx="534" cy="735.2" rx="8.5" ry="11.5" transform="rotate(-15 534 735.2)"/>
<path d="M510,714 l3,-2 l3,2 l-3,2 z" stroke-width="1"/>
<!-- lower pipe -->
<path d="M532,770.4 L560.8,788 M514.4,781.6 L538.4,807.2 M556,784 L560.8,788 L546,808 L538.4,807.2 M554,787 L541,805"/>
<path d="M518,778 L522,790 L532,786" stroke-width="1"/>
<path d="M533.6,736.8 L576.8,756 L570.4,660 L590,664" stroke-dasharray="40,3,2,3"/>
<path d="M488.8,788 L543.2,749.6" stroke-dasharray="30,3,2,3"/>
<g transform="translate(456.0 813.0) rotate(145.5)" stroke-width="1.20">
<path d="M-38.8,-4.2 L-6.0,-4.2 M-38.8,4.2 L-6.0,4.2 M-38.8,-4.2 Q-40.8,0 -38.8,4.2"/>
<path d="M-36.3,-4.2 Q-34.1,0 -35.5,4.2 M-32.7,-4.2 Q-30.5,0 -31.9,4.2 M-29.1,-4.2 Q-26.9,0 -28.3,4.2 M-25.5,-4.2 Q-23.3,0 -24.7,4.2 M-21.9,-4.2 Q-19.7,0 -21.1,4.2 M-18.3,-4.2 Q-16.1,0 -17.5,4.2 M-14.7,-4.2 Q-12.5,0 -13.9,4.2 "/>
<ellipse cx="-3.5" cy="0" rx="4.0" ry="11.0" fill="#fff"/>
<path fill="#fff" d="M-3.0,-7.5 L3.5,-7.5 L3.5,7.5 L-3.0,7.5 Z"/>
<ellipse cx="3.5" cy="0" rx="5.0" ry="7.5" fill="#fff"/>
<ellipse cx="4.5" cy="0" rx="2.8" ry="4.5"/>
</g>
<path d="M554.4,801.4 L567.6,815.2" />
<path d="M553.2,835.6 L583.2,804.4 L594.6,814.6 L564.6,847 Z M557,838 L586,807 M557,838 L561,843 M584,810 l3,-2 M589,813 l2,-2" fill="#fff"/>
<path d="M563.4,832 L576,821.8 L568.8,834.4 Z" stroke-width="1.1"/>
<path d="M586.2,833.8 L609.6,857.8"/>
<!-- clamp4 -->
<ellipse cx="612.2" cy="676" rx="20.6" ry="21" transform="rotate(30 612.2 676)"/>
<ellipse cx="611.2" cy="675" rx="11.2" ry="17.8" transform="rotate(28 611.2 675)"/>
<path d="M599,666 L605,659 L607,661 L601,668 Z" stroke-width="1.1"/>
<path d="M620,656 L626,650 L635,655 L630,663 M622,658 L626,654 L631,657 L628,661" stroke-width="1.1"/>
<path d="M621.6,664 L628,670 L626,685 L622,686 L621,672" stroke-width="1.1"/>
<path d="M632,670 C636,669 640,670 639,671 C638,673 634,673 633,672" stroke-width="1.1"/>
<!-- hose4 -->
<path d="M638.8,694.4 C640.4,691.1 643.5,683.0 647.2,680.4 C650.9,677.8 655.6,677.8 661.2,679.0 C666.8,680.2 675.2,683.9 680.8,687.4 C686.4,690.9 691.1,696.5 694.8,700.0 C698.5,703.5 699.0,706.1 703.2,708.4 C707.4,710.7 713.9,712.8 720.0,714.0 C726.1,715.2 733.1,716.3 739.6,715.4 C746.1,714.5 754.1,709.1 759.2,708.4 C764.3,707.7 767.1,708.4 770.4,711.2 C773.7,714.0 777.9,720.1 778.8,725.2 C779.7,730.3 779.3,738.3 776.0,742.0 C772.7,745.7 765.7,746.0 759.2,747.6 C752.7,749.2 744.3,751.3 736.8,751.8 C729.3,752.3 721.9,752.0 714.4,750.4 C706.9,748.8 698.5,745.3 692.0,742.0 C685.5,738.7 680.3,734.5 675.2,730.8 C670.1,727.1 666.3,722.9 661.2,719.6 C656.1,716.3 648.4,714.5 644.4,711.2 C640.4,707.9 638.3,702.8 637.4,700.0 C636.5,697.2 637.2,697.7 638.8,694.4 Z"/>
<path d="M740.5,715.6 C750,725 754,740 751,749"/>
<!-- clamp5 -->
<ellipse cx="803.8" cy="711" rx="17.5" ry="20" transform="rotate(-25 803.8 711)"/>
<ellipse cx="805" cy="711" rx="11.5" ry="18.2" transform="rotate(-25 805 711)"/>
<path d="M787,710 L792,709" stroke-width="1.1"/>
<path d="M795,729 L794.6,734 L808,740.2 L812,737 L811,731 M802,733 l5,2 M804,736 l2,-4" stroke-width="1.1"/>
<path d="M822.8,705.4 L849.2,695.8"/>
<!-- line clamp4 to clamp6 -->
<path d="M605,708 L621,823" stroke-dasharray="60,3,2,3"/>
<!-- clamp6 -->
<path d="M606.6,829 C607,836 612,842 622,843 C632,843 637,838 637,831"/>
<ellipse cx="621.8" cy="826.6" rx="15.2" ry="10.5" transform="rotate(8 621.8 826.6)"/>
<path d="M609,822 C613,818 625,817 632,821" stroke-width="1.1"/>
<path d="M600,821 L610,815 L615,822 L604,829 Z M602,824 l9,-6 M604,827 l8,-6" fill="#fff" stroke-width="1.1"/>
<!-- gray hose -->
<path d="M611.0,868.2 C611.2,870.6 611.7,877.5 612.4,882.5 C613.0,887.5 613.6,893.7 615.0,898.0 C616.4,902.3 618.3,905.5 620.8,908.5 C623.3,911.5 626.2,914.2 629.9,916.3 C633.6,918.4 639.2,919.6 642.9,920.9 C646.6,922.2 649.2,922.0 652.0,924.1 C654.8,926.2 656.3,930.2 659.8,933.2 C663.3,936.2 668.0,939.5 672.8,942.3 C677.6,945.1 683.6,948.8 688.4,950.1 C693.2,951.4 697.7,951.2 701.4,950.1 C705.1,949.0 708.3,946.9 710.5,943.6 C712.7,940.4 714.0,934.9 714.4,930.6 C714.8,926.3 714.6,921.3 713.1,917.6 C711.6,913.9 709.0,911.0 705.3,908.5 C701.6,906.0 696.4,904.4 691.0,902.6 C685.6,900.9 677.6,899.4 672.8,898.1 C668.0,896.8 667.2,895.9 662.4,894.9 C657.6,893.8 647.7,895.0 644.2,891.6 C640.7,888.2 642.2,878.8 641.6,874.7 C641.0,870.6 640.5,868.2 640.3,866.9 Z" fill="#c6c6c6" stroke-width="1.8"/>
<path d="M644.2,872.75 L667.6,895.5 L661.1,892.9 L643.55,891.6 Z" fill="#8a8a8a" stroke-width="1.4"/>
<path d="M661,893 L664,889 L667.6,895.5 Z" fill="#eee" stroke-width="1"/>
<path d="M642.9,920.9 C650,922.5 660,925 667.6,926.7 C676,928.5 684,930 688,933 C690,935 691,937 691,938.4" stroke-width="1.6"/>
<ellipse cx="625.35" cy="866.25" rx="14.95" ry="12.35" fill="#9a9a9a" stroke-width="1.8"/>
<ellipse cx="625.35" cy="866.25" rx="9.75" ry="8.45" fill="#dcdcdc" stroke-width="1.6"/>
<path d="M623,849 L625,866" stroke-width="1.1"/>
</g>
</svg>
</body></html>
